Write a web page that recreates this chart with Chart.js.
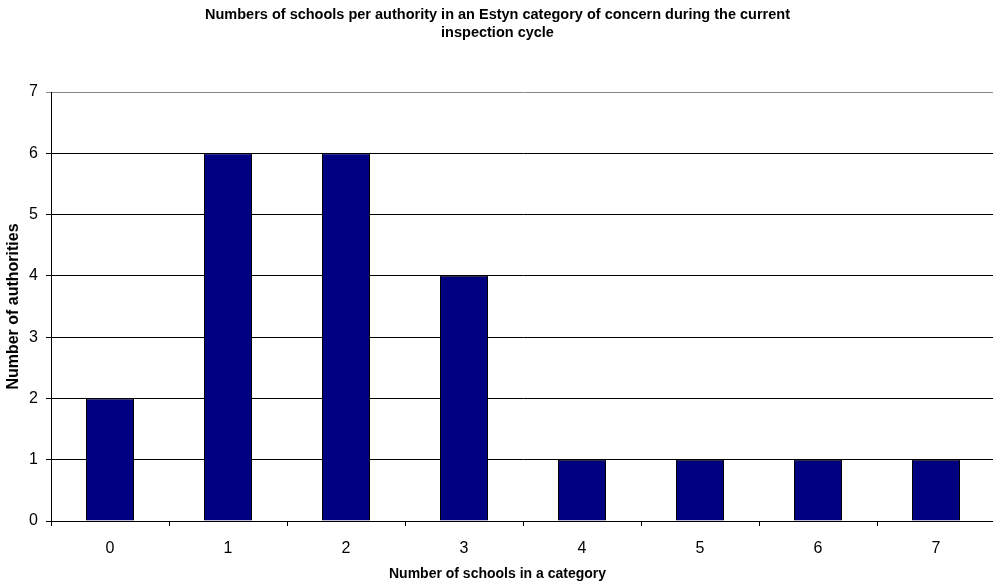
<!DOCTYPE html>
<html>
<head>
<meta charset="utf-8">
<script src="https://cdn.jsdelivr.net/npm/chart.js@4/dist/chart.umd.min.js"></script>
<style>
  body { margin: 0; background: #fff; overflow: hidden; }
  #wrap { width: 993px; height: 584px; overflow: hidden; }
</style>
</head>
<body>
<div id="wrap"><canvas id="chart" width="1003" height="584"></canvas></div>
<script>
// Datos del gráfico
const categorias = ['0', '1', '2', '3', '4', '5', '6', '7'];
const autoridades = [2, 6, 6, 4, 1, 1, 1, 1];
const tituloLineas = [
    'Numbers of schools per authority in an Estyn category of concern during the current',
    'inspection cycle'
];
const tituloX = 'Number of schools in a category';
const tituloY = 'Number of authorities';

Chart.defaults.font.family = 'Arial, "Liberation Sans", sans-serif';
Chart.defaults.color = '#000';

// El área del gráfico sobrepasa un poco el borde derecho, como en el original
const ctx = document.getElementById('chart').getContext('2d');
new Chart(ctx, {
    type: 'bar',
    data: {
        labels: categorias,
        datasets: [{
            data: autoridades,
            backgroundColor: '#000080',
            borderColor: '#000',
            borderWidth: 1,
            categoryPercentage: 1,
            barPercentage: 0.407
        }]
    },
    options: {
        responsive: false,
        animation: false,
        layout: { padding: { left: 0, right: 8, top: 0, bottom: 0 } },
        plugins: {
            legend: { display: false },
            tooltip: { enabled: false },
            title: {
                display: true,
                text: tituloLineas,
                font: { size: 14.5, weight: 'bold', lineHeight: 1.25 },
                padding: { top: 6, bottom: 49.75 }
            },
            // Título del eje X centrado sobre todo el lienzo
            subtitle: {
                display: true,
                position: 'bottom',
                text: tituloX,
                font: { size: 14, weight: 'bold', lineHeight: 1.2 },
                padding: { top: 4, bottom: 1 }
            }
        },
        scales: {
            x: {
                grid: { offset: true, drawOnChartArea: false, drawTicks: true, tickLength: 5, color: '#000' },
                border: { color: '#000' },
                ticks: { font: { size: 16 }, padding: 13 },
                afterFit: s => { s.height = 41.2; }
            },
            y: {
                min: 0,
                max: 7,
                grid: {
                    color: c => c.tick && c.tick.value === 7 ? '#888' : '#000',
                    tickLength: 5
                },
                border: { color: '#000' },
                ticks: { stepSize: 1, font: { size: 16 }, padding: 8 },
                title: { display: true, text: tituloY, font: { size: 16, weight: 'bold' }, padding: 4 },
                afterFit: s => { s.width = 51; }
            }
        }
    }
});
</script>
</body>
</html>
